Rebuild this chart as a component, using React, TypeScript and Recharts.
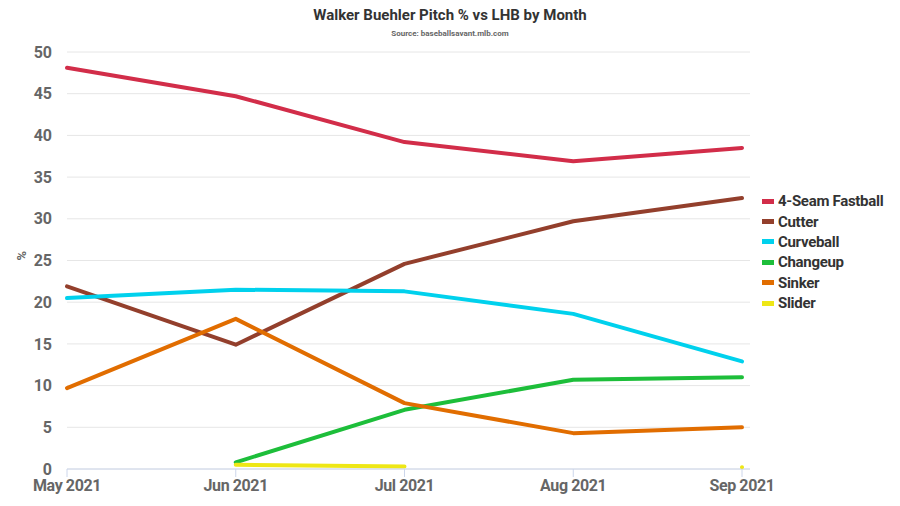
import { LineChart, Line, XAxis, YAxis, CartesianGrid } from "recharts";

const MONTHS = ["May 2021", "Jun 2021", "Jul 2021", "Aug 2021", "Sep 2021"];
const FOURSEAM = [48.1, 44.7, 39.2, 36.9, 38.5];
const CUTTER = [21.9, 14.9, 24.6, 29.7, 32.5];
const CURVEBALL = [20.5, 21.5, 21.3, 18.6, 12.9];
const CHANGEUP = [null, 0.8, 7.1, 10.7, 11.0];
const SINKER = [9.7, 18.0, 7.9, 4.3, 5.0];
const SLIDER = [null, 0.5, 0.3, null, 0.2];
const Y_TICKS = [0, 5, 10, 15, 20, 25, 30, 35, 40, 45, 50];

const SERIES = [
  { key: "fourSeam", name: "4-Seam Fastball", color: "#d22d49", values: FOURSEAM },
  { key: "cutter", name: "Cutter", color: "#933f2c", values: CUTTER },
  { key: "curveball", name: "Curveball", color: "#00d1ed", values: CURVEBALL },
  { key: "changeup", name: "Changeup", color: "#1dbe3a", values: CHANGEUP },
  { key: "sinker", name: "Sinker", color: "#e16d00", values: SINKER },
  { key: "slider", name: "Slider", color: "#eee716", values: SLIDER },
];

const data = MONTHS.map((m, i) => {
  const row: Record<string, string | number | null> = { month: m };
  SERIES.forEach((s) => {
    row[s.key] = s.values[i];
  });
  return row;
});

const FONT = "Roboto, 'Noto Sans', sans-serif";

// only draw a dot where the point has no neighbours (a lone value)
function loneDot(values: (number | null)[], color: string) {
  return (props: any) => {
    const { cx, cy, index } = props;
    const v = values[index];
    const prev = index > 0 ? values[index - 1] : null;
    const next = index < values.length - 1 ? values[index + 1] : null;
    if (v == null || prev != null || next != null || cx == null || cy == null) {
      return <g key={`d-${index}`} />;
    }
    return <circle key={`d-${index}`} cx={cx} cy={cy} r={1.5} fill={color} />;
  };
}

function LegendBox() {
  return (
    <div style={{ position: "absolute", left: 762, top: 191, fontFamily: FONT }}>
      {SERIES.map((s) => (
        <div key={s.key} style={{ display: "flex", alignItems: "center", height: 20.4 }}>
          <div style={{ width: 12, height: 5, background: s.color, marginRight: 4 }} />
          <span style={{ fontSize: 15, fontWeight: 700, color: "#333", letterSpacing: -0.3 }}>
            {s.name}
          </span>
        </div>
      ))}
    </div>
  );
}

export default function App() {
  return (
    <div style={{ position: "absolute", left: 0, top: 0, width: 900, height: 506, background: "#fff" }}>
      <div
        style={{
          position: "absolute",
          top: 6,
          width: 900,
          textAlign: "center",
          fontFamily: FONT,
          fontWeight: 700,
          fontSize: 15,
          color: "#333",
        }}
      >
        Walker Buehler Pitch % vs LHB by Month
      </div>
      <div
        style={{
          position: "absolute",
          top: 29,
          width: 900,
          textAlign: "center",
          fontFamily: FONT,
          fontWeight: 700,
          fontSize: 8,
          color: "#666",
        }}
      >
        Source: baseballsavant.mlb.com
      </div>
      <LineChart width={900} height={506} data={data} margin={{ top: 52, right: 150, bottom: 7, left: 0 }}>
        <CartesianGrid vertical={false} stroke="#e6e6e6" />
        <XAxis
          dataKey="month"
          height={30}
          padding={{ left: 0, right: 8 }}
          stroke="#ccd6eb"
          tickSize={8}
          tickMargin={3}
          tick={{ fontSize: 16, fontWeight: 700, fill: "#666", fontFamily: FONT, letterSpacing: -0.4 }}
          interval={0}
        />
        <YAxis
          width={67}
          domain={[0, 50]}
          ticks={Y_TICKS}
          axisLine={false}
          tickLine={false}
          tickSize={0}
          tickMargin={15}
          tick={{ fontSize: 16, fontWeight: 700, fill: "#666", fontFamily: FONT }}
          label={{
            value: "%",
            angle: -90,
            position: "insideLeft",
            offset: 21,
            style: { fontSize: 13, fontWeight: 700, fill: "#666", fontFamily: FONT },
          }}
        />
        {SERIES.map((s) => (
          <Line
            key={s.key}
            dataKey={s.key}
            name={s.name}
            stroke={s.color}
            strokeWidth={4}
            strokeLinecap="round"
            strokeLinejoin="round"
            type="linear"
            dot={loneDot(s.values, s.color)}
            activeDot={false}
            isAnimationActive={false}
          />
        ))}
      </LineChart>
      <LegendBox />
    </div>
  );
}
